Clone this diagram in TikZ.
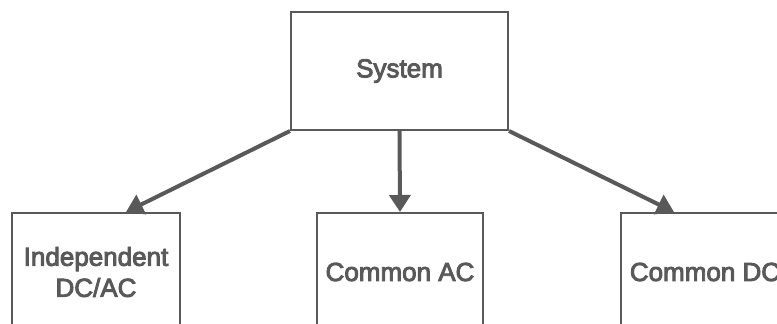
\documentclass[tikz,border=0pt]{standalone}
\usepackage{fontspec}
\setmainfont{Liberation Sans}
\usetikzlibrary{arrows.meta,calc}
\definecolor{ink}{HTML}{595959}
% slightly heavier text: fill and stroke the glyph outlines
\newcommand\heavytext[1]{\special{pdf:literal direct 2 Tr 0.9 w}#1\special{pdf:literal direct 0 Tr}}
\begin{document}
\begin{tikzpicture}[x=1pt,y=-1pt,
  box/.style={draw=ink, line width=2pt, fill=white, text=ink, inner sep=0pt,
    align=center, minimum height=118pt, font=\fontsize{26}{31}\selectfont},
  link/.style={draw=ink, line width=4pt, -{Triangle[length=17pt,width=21pt]}}]
\useasboundingbox (0,0) rectangle (777,324);
\clip (0,0) rectangle (777,324);
% root and the three variants
\node[box, minimum width=217pt] (sys) at (399.5,71) {\heavytext{System}};
\node[box, minimum width=168pt] (indep) at (96,272) {\heavytext{Independent}\\\heavytext{DC/AC}};
\node[box, minimum width=166pt] (cac) at (400,272) {\heavytext{Common AC}};
\node[box, minimum width=168pt] (cdc) at (705,272) {\heavytext{Common DC}};
% connectors
\draw[link] (sys.south west) -- ($(indep.north)+(30,0)$);
\draw[link] (sys.south) -- (cac.north);
\draw[link] (sys.south east) -- ($(cdc.north)+(-31,0)$);
\end{tikzpicture}
\end{document}
